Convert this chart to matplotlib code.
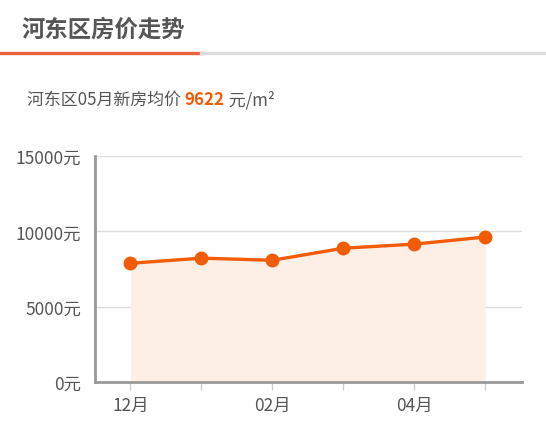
import matplotlib
matplotlib.use("Agg")
import matplotlib.pyplot as plt
from matplotlib.lines import Line2D

plt.rcParams["font.family"] = ["Noto Sans CJK SC", "DejaVu Sans"]

# ==========================================================
# Data
# ==========================================================

months = ["12月", "01月", "02月", "03月", "04月", "05月"]
prices = [7880, 8220, 8080, 8880, 9150, 9622]
shown_labels = ["12月", "", "02月", "", "04月", ""]
y_ticks = [0, 5000, 10000, 15000]
y_labels = ["0元", "5000元", "10000元", "15000元"]

title = "河东区房价走势"
sub_prefix = "河东区05月新房均价 "
sub_value = "9622"
sub_suffix = " 元/m²"

ORANGE = "#f25c05"
FILL = "#fdeee6"
GREY_TEXT = "#555555"

# ==========================================================
# Figure
# ==========================================================

fig = plt.figure(figsize=(5.46, 4.27), dpi=100)

# header
fig.text(22 / 546, 1 - 30 / 427, title, fontsize=16.8, fontweight="bold",
         color=GREY_TEXT, va="center", ha="left")
fig.add_artist(Line2D([0, 201 / 546], [1 - 54 / 427] * 2, color="#e8643a",
                      lw=2.4, transform=fig.transFigure))
fig.add_artist(Line2D([201 / 546, 1], [1 - 54 / 427] * 2, color="#dcdcdc",
                      lw=2.4, transform=fig.transFigure))

# subtitle built piece by piece
renderer = fig.canvas.get_renderer()
x = 27 / 546
y = 1 - 100 / 427
for txt, color, weight in [(sub_prefix, GREY_TEXT, "normal"),
                           (sub_value, ORANGE, "bold"),
                           (sub_suffix, GREY_TEXT, "normal")]:
    t = fig.text(x, y, txt, fontsize=12.2, color=color, fontweight=weight,
                 va="center", ha="left")
    bb = t.get_window_extent(renderer=renderer)
    x += bb.width / fig.bbox.width

# ==========================================================
# Chart
# ==========================================================

ax = fig.add_axes([95 / 546, 1 - 383 / 427, (522 - 95) / 546, (383 - 157) / 427])

xs = list(range(len(months)))
ax.fill_between(xs, prices, 0, color=FILL, lw=0, zorder=1)
ax.plot(xs, prices, color=ORANGE, lw=2.4, marker="o", markersize=9,
        zorder=3, clip_on=False)

ax.set_xlim(-0.5, 5.52)
ax.set_ylim(0, 15000)

ax.set_yticks(y_ticks)
ax.set_yticklabels(y_labels)
ax.set_xticks(xs)
ax.set_xticklabels(shown_labels)

for v in y_ticks[1:]:
    ax.axhline(v, color="#dddddd", lw=1, zorder=0)

for side in ["top", "right"]:
    ax.spines[side].set_visible(False)
for side in ["left", "bottom"]:
    ax.spines[side].set_color("#999999")
    ax.spines[side].set_linewidth(2)

ax.tick_params(axis="y", length=0, pad=10, labelsize=12.5, labelcolor=GREY_TEXT)
ax.tick_params(axis="x", length=6, width=1, color="#cccccc", pad=4,
               labelsize=12.5, labelcolor=GREY_TEXT)

fig.savefig("out.png", dpi=100)
